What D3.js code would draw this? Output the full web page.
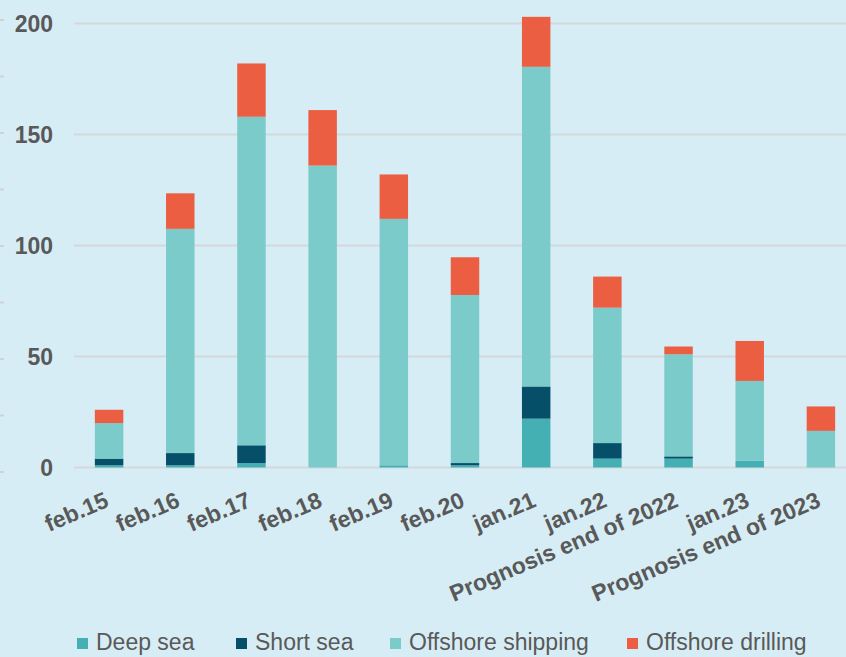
<!DOCTYPE html>
<html>
<head>
  <meta charset="utf-8">
  <title>Stacked bars</title>
  <style>
    body { margin: 0; background: #d7edf5; }
    svg { display: block; }
    .axis text { font-family: "Liberation Sans", Arial, sans-serif; font-weight: bold; fill: #595959; }
    .legend text { font-family: "Liberation Sans", Arial, sans-serif; fill: #595959; }
  </style>
  <script src="https://d3js.org/d3.v7.min.js"></script>
</head>
<body>
  <div id="chart"></div>
  <script>
    // categories and series
    var categories = ["feb.15", "feb.16", "feb.17", "feb.18", "feb.19", "feb.20", "jan.21", "jan.22",
                      "Prognosis end of 2022", "jan.23", "Prognosis end of 2023"];
    var deepSea          = [1, 1, 2, 0, 1, 1, 22, 4, 4, 3, 0];
    var shortSea         = [3, 5.5, 8, 0, 0, 1, 14.5, 7, 1, 0, 0];
    var offshoreShipping = [16, 101, 148, 136, 111, 75.7, 144, 61, 46, 36, 16.5];
    var offshoreDrilling = [6, 16, 24, 25, 20, 17, 22.5, 14, 3.5, 18, 11];
    var seriesNames = ["Deep sea", "Short sea", "Offshore shipping", "Offshore drilling"];
    var yTicks = [0, 50, 100, 150, 200];

    var colors = ["#45b0b3", "#064f68", "#7bcbcb", "#eb5e42"];

    var width = 846, height = 657;

    var svg = d3.select("#chart").append("svg")
        .attr("width", width)
        .attr("height", height);

    svg.append("rect")
      .attr("width", width)
      .attr("height", height)
      .attr("fill", "#d7edf5");

    var table = categories.map(function(c, i) {
      return { cat: c, "Deep sea": deepSea[i], "Short sea": shortSea[i],
               "Offshore shipping": offshoreShipping[i], "Offshore drilling": offshoreDrilling[i] };
    });

    var stack = d3.stack().keys(seriesNames)(table);

    var x = d3.scaleBand()
      .domain(categories)
      .range([73.5, 856.5])
      .paddingInner(0.6)
      .paddingOuter(0.3);

    var y = d3.scaleLinear()
      .domain([0, 200])
      .range([467.5, 23.5]);

    // small marks on the left edge (slightly different spacing than the grid)
    var yEdge = d3.scaleLinear().domain([0, 200]).range([472, 20]);
    svg.append("g").selectAll("line")
      .data(d3.range(0, 201, 25))
      .join("line")
        .attr("x1", 0).attr("x2", 4)
        .attr("y1", function(d) { return yEdge(d); })
        .attr("y2", function(d) { return yEdge(d); })
        .attr("stroke", "#d2d2d2")
        .attr("stroke-width", 2);

    // gridlines
    svg.append("g").selectAll("line")
      .data(yTicks)
      .join("line")
        .attr("x1", 74).attr("x2", width)
        .attr("y1", function(d) { return y(d); })
        .attr("y2", function(d) { return y(d); })
        .attr("stroke", "#d4d8da")
        .attr("stroke-width", 2);

    // y axis labels
    var yAxis = d3.axisLeft(y).tickValues(yTicks).tickSize(0).tickPadding(0);
    svg.append("g")
      .attr("class", "axis")
      .attr("transform", "translate(53,0)")
      .call(yAxis)
      .call(function(g) { g.select(".domain").remove(); })
      .selectAll("text")
        .attr("font-size", 23)
        .attr("dy", "0.36em");

    // bars
    svg.append("g").selectAll("g")
      .data(stack)
      .join("g")
        .attr("fill", function(d, i) { return colors[i]; })
      .selectAll("rect")
      .data(function(d) { return d; })
      .join("rect")
        .attr("x", function(d) { return x(d.data.cat); })
        .attr("width", x.bandwidth())
        .attr("y", function(d) { return y(d[1]); })
        .attr("height", function(d) { return y(d[0]) - y(d[1]); });

    // x axis labels
    var xAxis = d3.axisBottom(x).tickSize(0).tickPadding(0);
    svg.append("g")
      .attr("class", "axis")
      .attr("transform", "translate(0,480)")
      .call(xAxis)
      .call(function(g) { g.select(".domain").remove(); })
      .selectAll("text")
        .attr("font-size", 23)
        .attr("text-anchor", "end")
        .attr("x", 0)
        .attr("y", 0)
        .attr("dy", 0)
        .attr("transform", "translate(1,26) rotate(-23)");

    // legend
    var legendX = [77, 236, 390, 627];
    var legend = svg.append("g").attr("class", "legend")
      .selectAll("g")
      .data(seriesNames)
      .join("g")
        .attr("transform", function(d, i) { return "translate(" + legendX[i] + ",638)"; });

    legend.append("rect")
      .attr("width", 11)
      .attr("height", 11)
      .attr("fill", function(d, i) { return colors[i]; });

    legend.append("text")
      .attr("x", 19)
      .attr("y", 12)
      .attr("font-size", 23)
      .text(function(d) { return d; });
  </script>
</body>
</html>
